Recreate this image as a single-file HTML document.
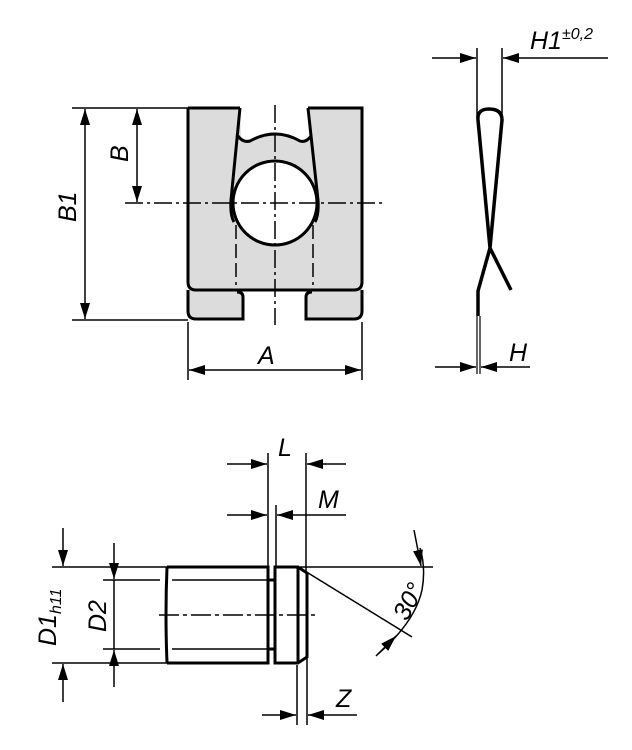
<!DOCTYPE html>
<html><head><meta charset="utf-8"><style>
html,body{margin:0;padding:0;background:#fff;}
svg{display:block;}
text{font-family:"Liberation Sans",sans-serif;font-style:italic;font-size:25px;fill:#000;}
</style></head><body>
<svg width="632" height="750" viewBox="0 0 632 750" xmlns="http://www.w3.org/2000/svg">
<defs>
<marker id="a" viewBox="0 0 16 10" refX="16" refY="5" markerWidth="16" markerHeight="10" markerUnits="userSpaceOnUse" orient="auto"><path d="M0,0 L16,5 L0,10 Z" fill="#000"/></marker>
</defs>
<g fill="none" stroke="#000">
<!-- plate fill -->
<path d="M188,108 L362,108 L362,282 Q362,290 354,290 L196,290 Q188,290 188,282 Z" fill="#dcdcdc" stroke="none"/>
<path d="M188,290 L243,290 L243,319 L196,319 Q188,319 188,311 Z M306,290 L362,290 L362,311 Q362,319 354,319 L306,319 Z" fill="#dcdcdc" stroke="none"/>
<path d="M240,106 L308,106 L309,138 Q305,143 300,141 Q275,123 250,141 Q245,143 241,138 Z" fill="#fff" stroke="none"/>
<path d="M188,108 L240,108 M308,108 L362,108 L362,282 Q362,290 354,290 L196,290 Q188,290 188,282 L188,108" stroke-width="3"/>
<path d="M188,290 L188,311 Q188,319 196,319 L243,319 L243,297 Q243,292 237,292 M362,290 L362,311 Q362,319 354,319 L306,319 L306,297 Q306,292 312,292" stroke-width="3"/>
<path d="M240,108 L231,200 Q230,215 234,222 M308,108 L318,200 Q319,215 315,222" stroke-width="3"/>
<path d="M238,136 Q243,143 250,141 Q275,127 300,141 Q306,143 311,136" stroke-width="3"/>
<circle cx="275" cy="203" r="42" fill="#fff" stroke-width="3"/>
<path d="M236,225 L236,285 M313,225 L313,285" stroke-width="1.5" stroke-dasharray="14,5"/>
<path d="M125,203 L383,203 M275,105 L275,325" stroke-width="1.5" stroke-dasharray="18,4,3,4"/>
<!-- plate dims -->
<path d="M72,108 L188,108 M72,320 L188,320 M188,322 L188,380 M362,322 L362,380" stroke-width="1.5"/>
<path d="M85,164 L85,109" stroke-width="1.5" marker-end="url(#a)"/>
<path d="M85,164 L85,319" stroke-width="1.5" marker-end="url(#a)"/>
<path d="M137,150 L137,109" stroke-width="1.5" marker-end="url(#a)"/>
<path d="M137,150 L137,202" stroke-width="1.5" marker-end="url(#a)"/>
<path d="M275,370 L189,370" stroke-width="1.5" marker-end="url(#a)"/>
<path d="M275,370 L361,370" stroke-width="1.5" marker-end="url(#a)"/>
<!-- side view -->
<path d="M477,48 L477,118 M502,48 L502,118" stroke-width="1.5"/>
<path d="M432,58 L476,58" stroke-width="1.5" marker-end="url(#a)"/>
<path d="M608,58 L503,58" stroke-width="1.5" marker-end="url(#a)"/>
<path d="M478,120 Q477,109 489,109 Q502,109 502,120 L490,248 L478,291 L478,316 M478,120 L490,248 L511,290" stroke-width="3.5" stroke-linejoin="round"/>
<path d="M477,316 L477,374 M480,316 L480,374" stroke-width="1.2"/>
<path d="M435,367 L476,367" stroke-width="1.5" marker-end="url(#a)"/>
<path d="M530,367 L481,367" stroke-width="1.5" marker-end="url(#a)"/>
<!-- pin -->
<path d="M167,567 L268,567 L268,663 L167,663 M167,567 Q165,615 167,663" stroke-width="3"/>
<path d="M275,567 L298,567 L307,573 L307,657 L298,663 L275,663 Z" stroke-width="3"/>
<path d="M298,567 L298,663" stroke-width="3"/>
<path d="M268,580 L275,580 M268,649 L275,649" stroke-width="3"/>
<path d="M103,580 L160,580 M172,580 L268,580 M103,649 L160,649 M172,649 L268,649" stroke-width="1.5"/>
<path d="M159,615 L318,615" stroke-width="1.5" stroke-dasharray="20,4,4,4"/>
<path d="M52,567 L167,567 M300,567 L433,567 M52,663 L167,663" stroke-width="1.5"/>
<path d="M63,528 L63,566" stroke-width="1.5" marker-end="url(#a)"/>
<path d="M63,702 L63,664" stroke-width="1.5" marker-end="url(#a)"/>
<path d="M114,543 L114,579" stroke-width="1.5" marker-end="url(#a)"/>
<path d="M114,687 L114,650" stroke-width="1.5" marker-end="url(#a)"/>
<path d="M114,580 L114,649" stroke-width="1.5"/>
<path d="M268,453 L268,567 M306,453 L306,573 M276,505 L276,567 M297,665 L297,725 M307,657 L307,725" stroke-width="1.5"/>
<path d="M227,464 L267,464" stroke-width="1.5" marker-end="url(#a)"/>
<path d="M346,464 L307,464" stroke-width="1.5" marker-end="url(#a)"/>
<path d="M227,515 L267,515" stroke-width="1.5" marker-end="url(#a)"/>
<path d="M346,515 L277,515" stroke-width="1.5" marker-end="url(#a)"/>
<path d="M262,715 L296,715" stroke-width="1.5" marker-end="url(#a)"/>
<path d="M357,715 L308,715" stroke-width="1.5" marker-end="url(#a)"/>
<path d="M300,568 L412,637" stroke-width="1.5"/>
<path d="M420,548 Q426,568 422,590 Q415,622 378,654" stroke-width="1.5"/>
<path d="M414,530 L421,566" stroke-width="1.5" marker-end="url(#a)"/>
<path d="M376,656 L396,636" stroke-width="1.5" marker-end="url(#a)"/>
</g>
<text x="258" y="364">A</text>
<text transform="translate(76,222) rotate(-90)">B1</text>
<text transform="translate(128,162) rotate(-90)">B</text>
<text x="530" y="49">H1<tspan font-size="16" dy="-10">±0,2</tspan></text>
<text x="509" y="361">H</text>
<text x="278" y="456">L</text>
<text x="318" y="508">M</text>
<text x="336" y="707">Z</text>
<text transform="translate(106,632) rotate(-90)">D2</text>
<text transform="translate(56,646) rotate(-90)">D1<tspan font-size="16" dy="5">h11</tspan></text>
<text transform="translate(407,622) rotate(-62)">30°</text>
</svg>
</body></html>
